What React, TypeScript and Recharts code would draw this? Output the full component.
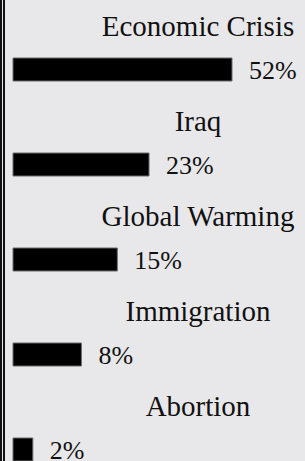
import { BarChart, Bar, XAxis, YAxis, LabelList } from 'recharts'

const issues = ['Economic Crisis', 'Iraq', 'Global Warming', 'Immigration', 'Abortion']
const shares = [52, 23, 15, 8, 2]

const data = issues.map((name, i) => ({ name, share: shares[i] }))

const FONT = '"Liberation Serif", "Times New Roman", serif'

// issue name sits above its bar, centred in the right-hand part of the panel
function IssueLabel({ y, height, value }: any) {
  return (
    <text x={198} y={y + height / 2 - 34} textAnchor="middle" fontFamily={FONT} fontSize={29} fill="#111">
      {value}
    </text>
  )
}

export default function App() {
  return (
    <div style={{ position: 'absolute', left: 0, top: 0, width: 305, height: 461, overflow: 'hidden', background: '#e8e8ea' }}>
      <div style={{ position: 'absolute', left: 0, top: 0, width: 2, height: 461, background: '#111' }} />
      <div style={{ position: 'absolute', left: 3, top: 0, width: 2, height: 461, background: '#111' }} />
      <BarChart
        width={305}
        height={500}
        data={data}
        layout="vertical"
        margin={{ top: 22, right: 73, left: 13, bottom: 3 }}
      >
        <XAxis type="number" scale="sqrt" domain={[0.7, 52]} hide />
        <YAxis type="category" dataKey="name" hide />
        <Bar dataKey="share" fill="#000" stroke="#6b6b6b" strokeWidth={1} barSize={23} isAnimationActive={false}>
          <LabelList dataKey="name" content={<IssueLabel />} />
          <LabelList
            dataKey="share"
            position="right"
            offset={17}
            formatter={(v: any) => `${v}%`}
            style={{ fontFamily: FONT, fontSize: 26, fill: '#111' }}
          />
        </Bar>
      </BarChart>
    </div>
  )
}
